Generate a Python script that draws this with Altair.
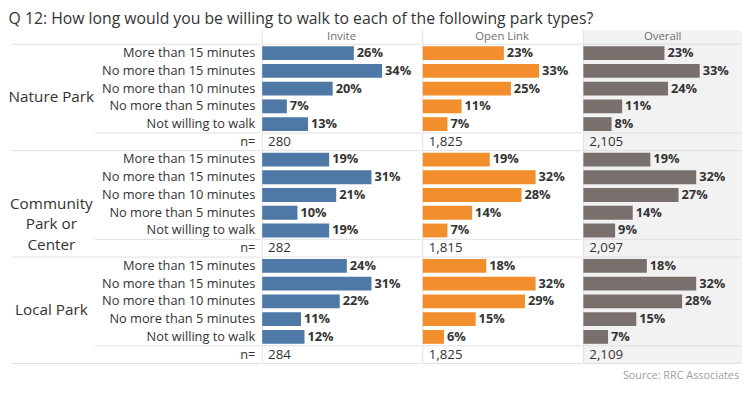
import altair as alt
import pandas as pd

FONT = "Open Sans"
title_text = "Q 12: How long would you be willing to walk to each of the following park types?"
groups = ["Nature Park", "Community\nPark or\nCenter", "Local Park"]
answers = ["More than 15 minutes", "No more than 15 minutes", "No more than 10 minutes",
           "No more than 5 minutes", "Not willing to walk"]
panels = ["Invite", "Open Link", "Overall"]
colors = ["#4e79a7", "#f28e2b", "#79706e"]

invite = [[26, 34, 20, 7, 13], [19, 31, 21, 10, 19], [24, 31, 22, 11, 12]]
open_link = [[23, 33, 25, 11, 7], [19, 32, 28, 14, 7], [18, 32, 29, 15, 6]]
overall = [[23, 33, 24, 11, 8], [19, 32, 27, 14, 9], [18, 32, 28, 15, 7]]
n_invite = [280, 282, 284]
n_open = [1825, 1815, 1825]
n_overall = [2105, 2097, 2109]
source = "Source: RRC Associates"

values_by_panel = [invite, open_link, overall]
n_by_panel = [n_invite, n_open, n_overall]

W_LABEL = 252
W_PANEL = 161
H = 338
X_MAX = 0.45
Y_TOP = -0.778
Y_BOT = 18

yscale = alt.Scale(domain=[Y_TOP, Y_BOT], reverse=True, nice=False, zero=False)
LINE = "#e0e0e0"
TXT = "#333333"

group_lines = pd.DataFrame({"y": [0, 6, 12, 18]})
n_lines = pd.DataFrame({"y": [5, 11, 17]})


def panel(idx):
    name = panels[idx]
    vals = values_by_panel[idx]
    ns = n_by_panel[idx]
    rows = []
    for g in range(3):
        for a in range(5):
            rows.append({"r": g * 6 + a, "v": vals[g][a] / 100})
    df = pd.DataFrame(rows)
    ndf = pd.DataFrame({"r": [g * 6 + 5 for g in range(3)], "n": ns})
    xs = alt.Scale(domain=[0, X_MAX], nice=False, zero=False)

    base = alt.Chart(df).transform_calculate(
        y0="datum.r + 0.11", y1="datum.r + 0.89", yc="datum.r + 0.5"
    )
    bars = base.mark_rect(color=colors[idx]).encode(
        x=alt.X("v:Q", scale=xs, axis=None),
        x2=alt.datum(0),
        y=alt.Y("y0:Q", scale=yscale, axis=None),
        y2="y1:Q",
    )
    labels = base.mark_text(align="left", baseline="middle", dx=3, fontWeight="bold",
                            fontSize=13, font=FONT, color=TXT).encode(
        x=alt.X("v:Q", scale=xs, axis=None),
        y=alt.Y("yc:Q", scale=yscale, axis=None),
        text=alt.Text("v:Q", format=".0%"),
    )
    ntext = alt.Chart(ndf).transform_calculate(yc="datum.r + 0.5").mark_text(
        align="left", baseline="middle", dx=6, fontSize=13.5, font=FONT, color=TXT
    ).encode(
        x=alt.X(datum=0, scale=xs, axis=None),
        y=alt.Y("yc:Q", scale=yscale, axis=None),
        text=alt.Text("n:Q", format=","),
    )
    header = alt.Chart(pd.DataFrame({"t": [name]})).mark_text(
        align="center", baseline="middle", fontSize=11.5, font=FONT, color="#707070"
    ).encode(
        x=alt.X(datum=X_MAX / 2, scale=xs, axis=None),
        y=alt.Y(datum=Y_TOP / 2, scale=yscale, axis=None),
        text="t:N",
    )
    hl = alt.Chart(pd.concat([group_lines, n_lines])).mark_rule(color=LINE, strokeWidth=1).encode(
        y=alt.Y("y:Q", scale=yscale, axis=None),
        x=alt.X(datum=0, scale=xs, axis=None),
        x2=alt.datum(X_MAX),
    )
    vl = alt.Chart(pd.DataFrame({"a": [0]})).mark_rule(color=LINE, strokeWidth=1).encode(
        x=alt.X(datum=0, scale=xs, axis=None),
        y=alt.Y(datum=Y_TOP, scale=yscale, axis=None),
        y2=alt.datum(Y_BOT),
    )
    layers = [hl, vl, bars, labels, ntext, header]
    if idx == 2:
        src = alt.Chart(pd.DataFrame({"t": [source]})).mark_text(
            align="right", baseline="middle", dx=-3, fontSize=11, font=FONT, color="#a0a0a0"
        ).encode(
            x=alt.X(datum=X_MAX, scale=xs, axis=None),
            y=alt.Y(datum=Y_BOT + 0.68, scale=yscale, axis=None),
            text="t:N",
        )
        layers.append(src)
    ch = alt.layer(*layers).properties(width=W_PANEL, height=H)
    if idx == 2:
        ch = ch.properties(view=alt.ViewBackground(fill="#f2f2f2", stroke=None))
    return ch


# left label column
lrows = []
for g in range(3):
    for a in range(5):
        lrows.append({"r": g * 6 + a, "t": answers[a]})
    lrows.append({"r": g * 6 + 5, "t": "n="})
ldf = pd.DataFrame(lrows)
lx = alt.Scale(domain=[0, W_LABEL], nice=False, zero=False)
row_labels = alt.Chart(ldf).transform_calculate(yc="datum.r + 0.5").mark_text(
    align="right", baseline="middle", fontSize=13, font=FONT, color=TXT
).encode(
    x=alt.X(datum=W_LABEL - 5, scale=lx, axis=None),
    y=alt.Y("yc:Q", scale=yscale, axis=None),
    text="t:N",
)
gdf = pd.DataFrame({"g": [0, 1, 2], "t": groups})
group_labels = alt.Chart(gdf).transform_calculate(yc="datum.g * 6 + 3").mark_text(
    align="center", baseline="middle", fontSize=15.5, font=FONT, color=TXT,
    lineBreak="\n", lineHeight=21
).encode(
    x=alt.X(datum=40, scale=lx, axis=None),
    y=alt.Y("yc:Q", scale=yscale, axis=None),
    text="t:N",
)
lgl = alt.Chart(group_lines).mark_rule(color=LINE, strokeWidth=1).encode(
    y=alt.Y("y:Q", scale=yscale, axis=None),
    x=alt.X(datum=0, scale=lx, axis=None),
    x2=alt.datum(W_LABEL),
)
lnl = alt.Chart(n_lines).mark_rule(color=LINE, strokeWidth=1).encode(
    y=alt.Y("y:Q", scale=yscale, axis=None),
    x=alt.X(datum=84, scale=lx, axis=None),
    x2=alt.datum(W_LABEL),
)
left = alt.layer(lgl, lnl, row_labels, group_labels).properties(width=W_LABEL, height=H)

chart = alt.hconcat(left, panel(0), panel(1), panel(2), spacing=0).properties(
    title=alt.TitleParams(title_text, anchor="start", fontSize=16, font=FONT,
                          color=TXT, fontWeight="normal", offset=3),
    padding=0,
).configure_view(stroke=None).resolve_scale(x="independent")

chart.save("out.html", embed_options={"renderer": "svg", "actions": False})
